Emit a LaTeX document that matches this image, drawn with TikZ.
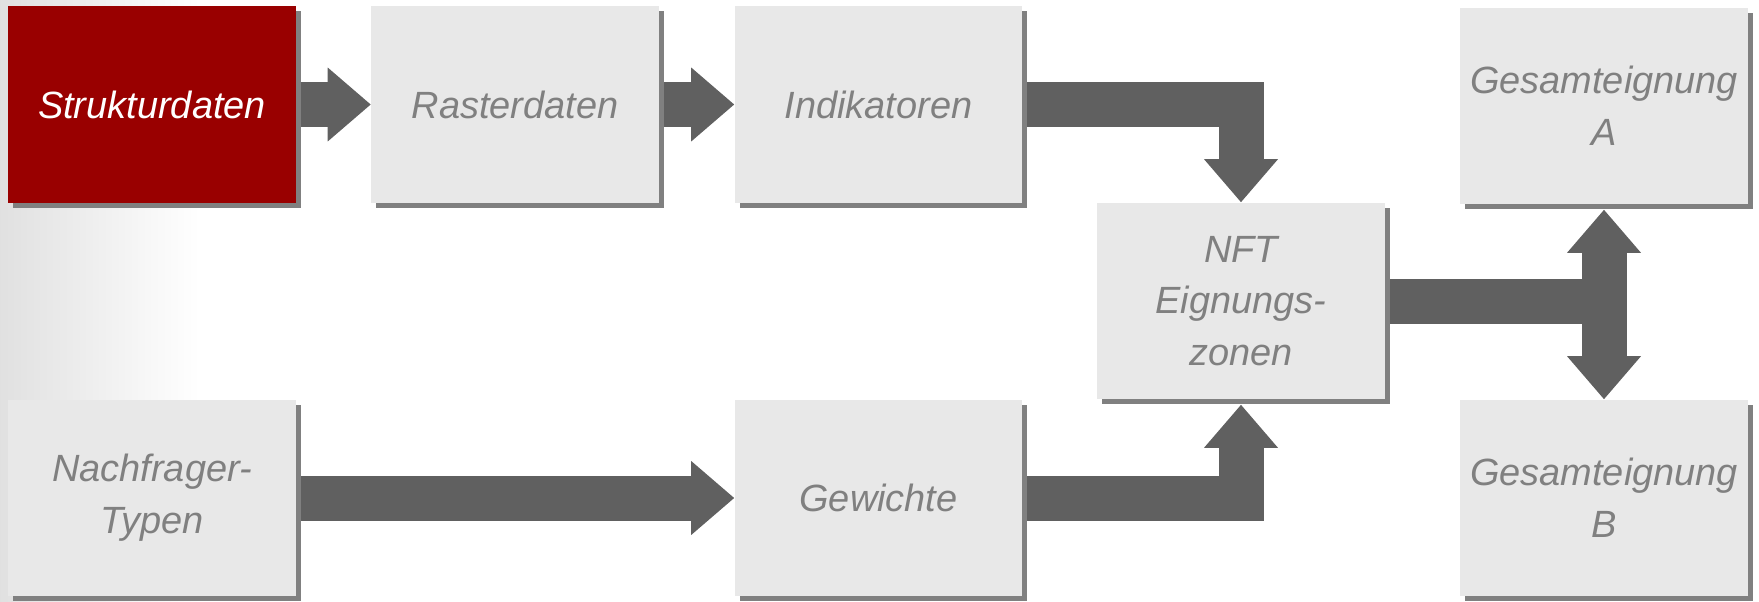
\documentclass[tikz,border=0pt]{standalone}
\usepackage{fontspec}
\setmainfont{Liberation Sans}
\usetikzlibrary{arrows.meta,calc,shadows,backgrounds}
\definecolor{BoxClr}{RGB}{232,232,232}
\definecolor{RedClr}{RGB}{153,0,0}
\definecolor{ShadowClr}{RGB}{128,128,128}
\definecolor{ArrowClr}{RGB}{96,96,96}
\definecolor{TextClr}{RGB}{128,128,128}

\begin{document}
\begin{tikzpicture}[x=0.02cm,y=-0.02cm,
  box/.style={fill=BoxClr,minimum width=5.76cm,minimum height=3.94cm,inner sep=0pt,
    text width=5.6cm,align=center,text=TextClr,font=\fontsize{21.6}{29.5}\selectfont\itshape,
    drop shadow={shadow xshift=0.1cm,shadow yshift=-0.1cm,fill=ShadowClr,opacity=1}},
  shaft/.style={ArrowClr,line width=0.9cm,line join=miter},
  >={Triangle[length=0.86cm,width=1.48cm,line width=0pt]}]

\useasboundingbox (0,0) rectangle (1759,602);

\node[box,fill=RedClr,text=white] (struk) at (152,104.5) {Strukturdaten};
\node[box] (raster) at (515,104.5) {Rasterdaten};
\node[box] (indik) at (878.5,104.5) {Indikatoren};
\node[box] (nft) at (1241,301) {NFT\\Eignungs-\\zonen};
\node[box] (gesA) at (1604,106) {Gesamteignung\\A};
\node[box] (gesB) at (1604,498) {Gesamteignung\\B};
\node[box] (nachf) at (152,498) {Nachfrager-\\Typen};
\node[box] (gew) at (878.5,498) {Gewichte};

\begin{scope}[on background layer]
\shade[left color=black!12,right color=white] (0,0) rectangle (200,602);

\draw[shaft,->] (struk.east) -- (raster.west);
\draw[shaft,->] (raster.east) -- (indik.west);
\draw[shaft,->] (indik.east) -| (nft.north);
\draw[shaft,->] (nachf.east) -- (gew.west);
\draw[shaft,->] (gew.east) -| ($(nft.south)+(0,5)$);
\draw[shaft] (nft.east) -- (nft.east -| gesA.south);
\draw[shaft,<->] ($(gesA.south)+(0,5)$) -- (gesB.north);
\end{scope}

\end{tikzpicture}
\end{document}
